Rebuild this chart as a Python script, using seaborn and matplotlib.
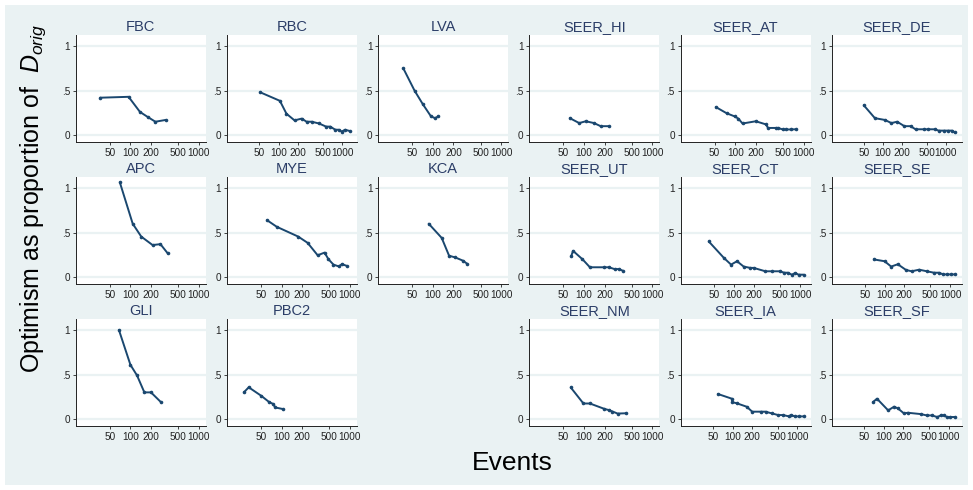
import numpy as np
import pandas as pd
import matplotlib
matplotlib.use("Agg")
import matplotlib.pyplot as plt
from matplotlib.patches import Rectangle
import seaborn as sns

# ---- data: number of events vs optimism (as proportion of D_orig) ----
fbc_events = [36, 94, 138, 182, 232, 328]
fbc_opt = [0.42, 0.43, 0.26, 0.20, 0.15, 0.17]

rbc_events = [52, 105, 133, 178, 230, 275, 331, 430, 556, 645, 773, 871, 977, 1100, 1310]
rbc_opt = [0.48, 0.385, 0.24, 0.165, 0.185, 0.15, 0.15, 0.13, 0.095, 0.095, 0.06, 0.06, 0.04, 0.06, 0.045]

lva_events = [37, 54, 71, 94, 108, 120]
lva_opt = [0.75, 0.50, 0.35, 0.21, 0.19, 0.21]

hi_events = [62, 85, 106, 140, 175, 230]
hi_opt = [0.19, 0.135, 0.155, 0.135, 0.10, 0.10]

at_events = [52, 75, 98, 111, 128, 200, 282, 302, 390, 425, 495, 556, 646, 765]
at_opt = [0.315, 0.245, 0.21, 0.185, 0.13, 0.155, 0.12, 0.08, 0.08, 0.08, 0.063, 0.063, 0.063, 0.065]

de_events = [50, 75, 108, 137, 169, 220, 275, 330, 447, 520, 665, 770, 920, 1080, 1250, 1380]
de_opt = [0.335, 0.19, 0.17, 0.135, 0.15, 0.10, 0.10, 0.065, 0.065, 0.065, 0.065, 0.05, 0.05, 0.05, 0.05, 0.03]

apc_events = [70, 108, 144, 211, 275, 353]
apc_opt = [1.065, 0.60, 0.455, 0.36, 0.37, 0.265]

mye_events = [61, 85, 175, 240, 337, 425, 485, 574, 685, 765, 906]
mye_opt = [0.64, 0.565, 0.455, 0.385, 0.245, 0.275, 0.20, 0.14, 0.12, 0.145, 0.125]

kca_events = [87, 135, 173, 214, 275, 318]
kca_opt = [0.60, 0.44, 0.24, 0.22, 0.185, 0.15]

ut_events = [65, 69, 95, 122, 195, 230, 280, 323, 374]
ut_opt = [0.235, 0.295, 0.20, 0.11, 0.11, 0.11, 0.09, 0.09, 0.07]

ct_events = [42, 71, 91, 112, 141, 178, 200, 300, 378, 492, 580, 650, 755, 847, 950, 1130]
ct_opt = [0.40, 0.215, 0.14, 0.178, 0.118, 0.103, 0.103, 0.065, 0.065, 0.065, 0.049, 0.049, 0.027, 0.046, 0.027, 0.027]

se_events = [69, 100, 126, 159, 212, 258, 336, 440, 566, 672, 780, 895, 1030, 1170]
se_opt = [0.198, 0.178, 0.118, 0.144, 0.08, 0.065, 0.083, 0.065, 0.049, 0.049, 0.03, 0.03, 0.03, 0.03]

gli_events = [68, 100, 125, 160, 200, 280]
gli_opt = [1.0, 0.61, 0.49, 0.30, 0.30, 0.19]

pbc2_events = [28, 33, 50, 66, 74, 81, 104]
pbc2_opt = [0.30, 0.357, 0.263, 0.19, 0.173, 0.13, 0.113]

nm_events = [64, 98, 122, 198, 233, 261, 310, 410]
nm_opt = [0.355, 0.175, 0.175, 0.115, 0.10, 0.085, 0.062, 0.065]

ia_events = [59, 97, 99, 116, 164, 200, 270, 321, 400, 504, 600, 740, 795, 910, 1050, 1240]
ia_opt = [0.282, 0.229, 0.19, 0.177, 0.139, 0.083, 0.083, 0.083, 0.064, 0.045, 0.045, 0.03, 0.045, 0.03, 0.03, 0.03]

sf_events = [68, 78, 116, 143, 164, 203, 233, 370, 457, 545, 665, 748, 835, 940, 1055, 1235]
sf_opt = [0.192, 0.229, 0.098, 0.139, 0.12, 0.064, 0.071, 0.056, 0.041, 0.041, 0.023, 0.041, 0.041, 0.023, 0.023, 0.023]

studies = {
    "FBC": (fbc_events, fbc_opt), "RBC": (rbc_events, rbc_opt),
    "LVA": (lva_events, lva_opt), "SEER_HI": (hi_events, hi_opt),
    "SEER_AT": (at_events, at_opt), "SEER_DE": (de_events, de_opt),
    "APC": (apc_events, apc_opt), "MYE": (mye_events, mye_opt),
    "KCA": (kca_events, kca_opt), "SEER_UT": (ut_events, ut_opt),
    "SEER_CT": (ct_events, ct_opt), "SEER_SE": (se_events, se_opt),
    "GLI": (gli_events, gli_opt), "PBC2": (pbc2_events, pbc2_opt),
    "SEER_NM": (nm_events, nm_opt), "SEER_IA": (ia_events, ia_opt),
    "SEER_SF": (sf_events, sf_opt),
}

panel_grid = [
    ["FBC", "RBC", "LVA", "SEER_HI", "SEER_AT", "SEER_DE"],
    ["APC", "MYE", "KCA", "SEER_UT", "SEER_CT", "SEER_SE"],
    ["GLI", "PBC2", None, "SEER_NM", "SEER_IA", "SEER_SF"],
]

x_ticks = [50, 100, 200, 500, 1000]
x_ticklabels = ["50", "100", "200", "500", "1000"]
y_ticks = [0, 0.5, 1]
y_ticklabels = ["0", ".5", "1"]

frames = []
for name, (ev, op) in studies.items():
    frames.append(pd.DataFrame({"study": name, "events": ev, "optimism": op,
                                "order": np.arange(len(ev))}))
df = pd.concat(frames, ignore_index=True)

# ---- styling ----
sns.set_style("white")
plt.rcParams["font.family"] = ["Liberation Sans", "DejaVu Sans"]
plt.rcParams["mathtext.fontset"] = "custom"
plt.rcParams["mathtext.rm"] = "Liberation Sans"
plt.rcParams["mathtext.it"] = "Liberation Sans:italic"

BG = "#EAF2F3"
LINE = "#1a476f"
TITLE = "#2b3d67"
W, H = 973, 490

fig = plt.figure(figsize=(W / 100, H / 100), dpi=100)
fig.patch.set_facecolor("white")
fig.add_artist(Rectangle((5 / W, 5 / H), (W - 10) / W, (H - 10) / H,
                         transform=fig.transFigure, facecolor=BG,
                         edgecolor="none", zorder=-10))

pan_w, pan_h = 130, 107
col_left = [75.7 + 151.2 * k for k in range(6)]
row_top = [35, 177, 319]

for r, row in enumerate(panel_grid):
    for c, name in enumerate(row):
        if name is None:
            continue
        left = col_left[c] / W
        bottom = 1 - (row_top[r] + pan_h) / H
        ax = fig.add_axes([left, bottom, pan_w / W, pan_h / H])
        ax.set_facecolor("white")
        sub = df[df["study"] == name].sort_values("order")
        for yv in y_ticks:
            ax.axhline(yv, color=BG, lw=1.6, zorder=0)
        sns.lineplot(data=sub, x="events", y="optimism", ax=ax, sort=False,
                     estimator=None, color=LINE, lw=1.4, marker="o",
                     markersize=2.6, markeredgewidth=0, zorder=3)
        ax.set_xscale("log")
        lo = np.log10(20)
        hi = np.log10(max(1000, sub["events"].max()))
        pad = 0.06 * (hi - lo)
        ax.set_xlim(10 ** (lo - pad), 10 ** (hi + pad))
        ax.set_ylim(-0.078, 1.125)
        ax.set_xticks(x_ticks)
        ax.set_xticklabels(x_ticklabels)
        ax.minorticks_off()
        ax.set_yticks(y_ticks)
        ax.set_yticklabels(y_ticklabels)
        ax.tick_params(axis="both", which="major", labelsize=7.2, length=2.5,
                       width=0.6, pad=1.5, colors="#222222", direction="out",
                       bottom=True, left=True)
        for side in ("top", "right"):
            ax.spines[side].set_visible(False)
        for side in ("left", "bottom"):
            ax.spines[side].set_color("#222222")
            ax.spines[side].set_linewidth(0.7)
        ax.set_xlabel("")
        ax.set_ylabel("")
        ax.set_title(name, fontsize=10.5, color=TITLE, pad=3)
        ax.grid(False)

fig.text(33 / W, 1 - 198 / H, r"Optimism as proportion of  $D_{orig}$",
         rotation=90, ha="center", va="center", fontsize=18, color="black")
fig.text(512 / W, 1 - 463 / H, "Events", ha="center", va="center",
         fontsize=19, color="black")

fig.savefig("out.png", dpi=100, facecolor=fig.get_facecolor())
